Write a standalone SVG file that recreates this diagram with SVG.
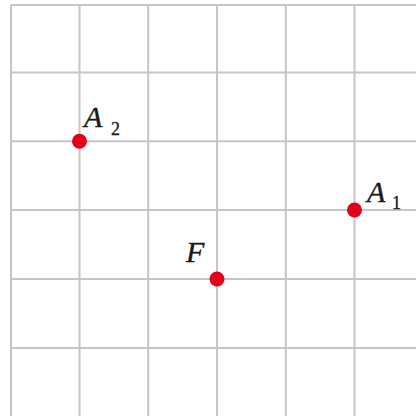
<svg xmlns="http://www.w3.org/2000/svg" width="416" height="416" viewBox="0 0 416 416">
<style>
.g{stroke:#c6c6c6;stroke-width:2;fill:none}
.pt{fill:#e2001a}
.lb{font-family:"Liberation Serif",serif;font-style:italic;font-size:30px;fill:#1a1a1a;stroke:#1a1a1a;stroke-width:0.4}
.sb{font-family:"Liberation Serif",serif;font-size:18px;fill:#1a1a1a;stroke:#1a1a1a;stroke-width:0.3}
</style>
<rect width="416" height="416" fill="#fff"/>
<g id="grid" class="g">
<path d="M11,5V416M79.5,5V416M148.2,5V416M217,5V416M285.8,5V416M354.5,5V416"/>
<path d="M11,5H416M11,72.5H416M11,141.3H416M11,210H416M11,279H416M11,348H416"/>
</g>
<g id="A2"><circle class="pt" cx="79.5" cy="141.3" r="7.5"/><text class="lb" x="84" y="127">A</text><text class="sb" x="111" y="135">2</text></g>
<g id="A1"><circle class="pt" cx="354.5" cy="210" r="7.5"/><text class="lb" x="367" y="202">A</text><text class="sb" x="392" y="209">1</text></g>
<g id="F"><circle class="pt" cx="217" cy="279" r="7.5"/><text class="lb" x="186" y="262">F</text></g>
</svg>
